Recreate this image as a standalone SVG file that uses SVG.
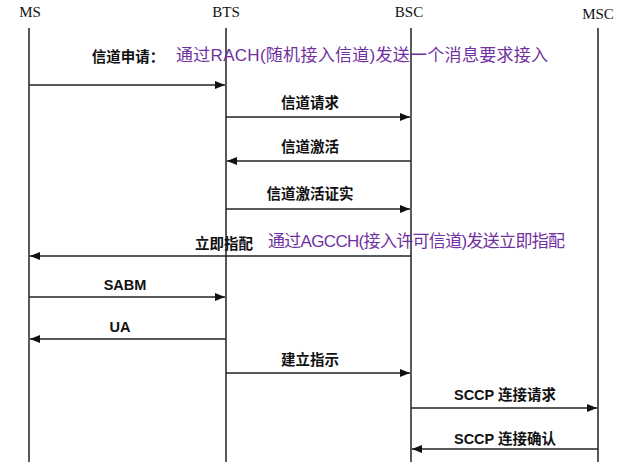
<svg xmlns="http://www.w3.org/2000/svg" width="622" height="467" viewBox="0 0 622 467">
<style>
.h{font-family:"Liberation Serif","Noto Serif CJK SC",serif;font-size:15px;text-anchor:middle;fill:#111}
.t{font-family:"Liberation Sans","Noto Sans CJK SC",sans-serif;font-size:14.5px;font-weight:bold;text-anchor:middle;fill:#111}
.p{font-family:"Liberation Sans","Noto Sans CJK SC",sans-serif;font-size:17px;fill:#7030a0}
.l{stroke:#222;stroke-width:1.5}
.a{stroke:#222;stroke-width:1.5;marker-end:url(#ah)}
</style>
<defs><marker id="ah" markerWidth="10" markerHeight="8" refX="10" refY="4" orient="auto" markerUnits="userSpaceOnUse"><path d="M0,0 L10,4 L0,8 Z" fill="#111"/></marker></defs>
<rect width="622" height="467" fill="#fff"/>
<g id="MS"><text class="h" x="30" y="17">MS</text><line class="l" x1="29" y1="28" x2="29" y2="462"/></g>
<g id="BTS"><text class="h" x="226" y="17">BTS</text><line class="l" x1="226" y1="28" x2="226" y2="462"/></g>
<g id="BSC"><text class="h" x="409" y="17">BSC</text><line class="l" x1="411" y1="28" x2="411" y2="462"/></g>
<g id="MSC"><text class="h" x="598" y="19">MSC</text><line class="l" x1="598" y1="28" x2="598" y2="462"/></g>
<g id="connectors">
<line class="a" x1="29" y1="85" x2="225" y2="85"/>
<line class="a" x1="226" y1="117" x2="410" y2="117"/>
<line class="a" x1="411" y1="161" x2="227" y2="161"/>
<line class="a" x1="226" y1="209" x2="410" y2="209"/>
<line class="a" x1="411" y1="256" x2="30" y2="256"/>
<line class="a" x1="29" y1="297" x2="225" y2="297"/>
<line class="a" x1="226" y1="339" x2="30" y2="339"/>
<line class="a" x1="226" y1="373" x2="410" y2="373"/>
<line class="a" x1="411" y1="408" x2="597" y2="408"/>
<line class="a" x1="598" y1="449" x2="412" y2="449"/>
</g>
<g id="labels">
<text class="t" x="128" y="62">信道申请：</text>
<text class="p" x="176" y="61" textLength="372">通过RACH(随机接入信道)发送一个消息要求接入</text>
<text class="t" x="310" y="108">信道请求</text>
<text class="t" x="310" y="152">信道激活</text>
<text class="t" x="310" y="199">信道激活证实</text>
<text class="t" x="224" y="249">立即指配</text>
<text class="p" x="268" y="247" textLength="297">通过AGCCH(接入许可信道)发送立即指配</text>
<text class="t" x="125" y="290">SABM</text>
<text class="t" x="120" y="332">UA</text>
<text class="t" x="310" y="365">建立指示</text>
<text class="t" x="505" y="400">SCCP 连接请求</text>
<text class="t" x="505" y="444">SCCP 连接确认</text>
</g>
</svg>
